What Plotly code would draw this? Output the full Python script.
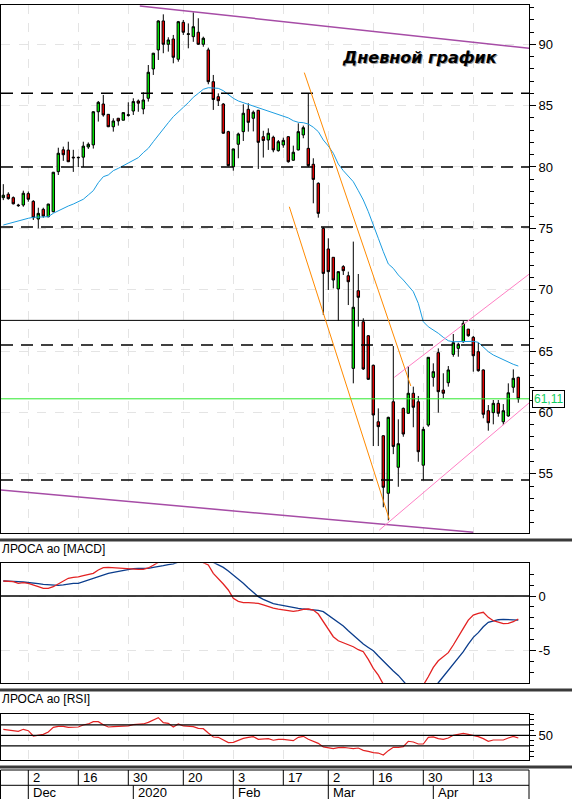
import pandas as pd
import plotly.graph_objects as go

W, H = 572, 799


def py(p):
    # pixel row -> paper y
    return 1 - p / H


def px(p):
    return p / W


# trading days (MOEX), non-trading days removed
holidays = ["2019-12-31", "2020-01-01", "2020-01-02", "2020-01-07",
            "2020-02-24", "2020-03-09"]
dates = [d.strftime("%Y-%m-%d") for d in pd.bdate_range("2019-11-25", "2020-04-24")
         if d.strftime("%Y-%m-%d") not in holidays]

opens = [77.5, 77.78, 77.5, 76.9, 76.9, 77.83, 77.2, 75.76, 76.55, 75.95,
         76.36, 79.62, 81.4, 81.38, 80.8, 80.75, 80.8, 81.63, 81.8, 84.5,
         85.13, 84.29, 83.28, 83.97, 83.81, 84.2, 84.56, 85.38, 84.73, 85.6,
         87.99, 89.54, 91.9, 90.0, 90.43, 88.78, 91.79, 90.8, 90.62, 90.98,
         90.0, 89.54, 86.95, 85.73, 85.13, 82.88, 80.02, 81.85, 82.88, 84.7,
         83.97, 84.62, 82.47, 82.2, 82.42, 81.33, 81.79, 82.47, 80.55, 81.39,
         82.61, 81.52, 80.22, 78.67, 75.0, 73.32, 72.64, 70.06, 71.88, 71.14,
         63.59, 69.92, 67.39, 66.25, 63.84, 59.24, 58.1, 53.41, 60.87, 55.53,
         60.33, 59.93, 61.56, 60.87, 55.7, 58.97, 62.86, 64.87, 61.82, 62.42,
         64.73, 65.22, 65.76, 66.79, 66.12, 64.95, 63.46, 60.14, 59.98, 60.74,
         59.24, 59.71, 62.05, 62.86]
highs = [78.6, 77.94, 77.6, 77.0, 78.07, 78.0, 77.3, 76.68, 76.68, 77.0,
         79.6, 81.57, 81.66, 82.06, 81.4, 80.85, 82.06, 82.0, 84.55, 85.38,
         85.87, 84.3, 83.97, 84.0, 84.45, 85.27, 85.6, 85.5, 86.09, 88.31,
         89.3, 91.95, 92.44, 90.57, 90.76, 91.9, 91.98, 91.7, 92.6, 92.12,
         90.62, 89.72, 87.5, 86.0, 85.2, 82.95, 81.5, 82.8, 85.11, 85.19,
         84.6, 84.65, 82.95, 83.15, 82.55, 82.2, 82.39, 82.5, 81.74, 83.56,
         83.37, 86.0, 80.71, 78.75, 75.1, 74.19, 72.65, 71.5, 72.0, 71.47,
         73.92, 71.28, 67.67, 66.3, 63.9, 60.33, 58.15, 59.65, 65.41, 59.44,
         60.4, 63.78, 62.1, 61.34, 58.83, 64.49, 64.0, 65.22, 63.19, 63.78,
         66.39, 65.68, 67.47, 66.8, 66.23, 65.68, 63.51, 60.6, 61.01, 61.01,
         60.68, 62.37, 63.51, 62.91]
lows = [77.3, 77.34, 76.95, 76.75, 76.76, 77.17, 75.68, 75.0, 75.87, 75.9,
        76.3, 79.35, 80.5, 80.4, 79.6, 80.0, 80.0, 81.47, 81.5, 83.7,
        84.1, 83.25, 82.88, 83.37, 83.8, 84.1, 84.24, 84.5, 84.3, 85.33,
        87.5, 88.72, 89.27, 89.4, 88.45, 88.58, 90.76, 89.67, 90.2, 89.94,
        89.8, 86.74, 84.65, 84.97, 82.7, 80.05, 79.7, 80.71, 82.12, 82.88,
        82.9, 79.84, 80.77, 81.39, 81.2, 81.25, 81.57, 80.35, 80.5, 81.35,
        82.34, 80.0, 77.04, 75.87, 67.94, 69.98, 70.11, 67.47, 71.2, 68.75,
        62.37, 66.99, 63.46, 62.65, 57.26, 57.26, 52.27, 51.2, 56.6, 53.94,
        58.02, 59.9, 58.79, 55.98, 54.49, 58.83, 62.1, 59.98, 61.15, 62.1,
        64.54, 64.54, 65.68, 66.17, 63.32, 63.32, 59.52, 58.51, 59.03, 59.65,
        58.97, 59.65, 61.6, 60.79]
closes = [77.7, 77.42, 77.0, 76.85, 77.86, 77.37, 75.87, 76.22, 76.0, 76.98,
          79.57, 81.12, 81.0, 80.43, 80.75, 80.78, 81.7, 81.85, 84.5, 85.27,
          84.24, 83.28, 83.75, 83.75, 84.43, 84.25, 85.33, 85.2, 85.46, 87.72,
          89.27, 91.9, 90.0, 90.35, 88.94, 91.84, 90.98, 90.85, 91.43, 90.0,
          90.49, 86.95, 85.5, 85.4, 82.75, 80.11, 81.47, 82.69, 84.38, 83.64,
          84.46, 82.01, 82.16, 82.75, 81.39, 82.06, 82.17, 80.43, 81.2, 82.88,
          83.2, 80.11, 78.99, 76.22, 71.33, 71.47, 70.79, 71.47, 71.55, 70.65,
          68.57, 69.38, 63.54, 62.7, 59.79, 58.84, 53.9, 59.6, 57.23, 57.45,
          58.24, 61.56, 60.42, 56.8, 58.62, 64.49, 63.32, 61.69, 61.56, 63.46,
          65.68, 65.55, 67.26, 66.25, 64.62, 63.4, 59.85, 59.16, 60.74, 59.93,
          60.14, 61.6, 62.78, 61.11]
ma20 = [75.27, 75.38, 75.54, 75.62, 75.74, 75.82, 75.9, 75.93, 75.93, 75.95,
        76.23, 76.44, 76.63, 76.82, 76.98, 77.17, 77.37, 77.72, 78.07, 78.72,
        79.21, 79.35, 79.7, 79.89, 80.11, 80.3, 80.51, 80.76, 81.17, 81.52,
        82.06, 82.61, 83.15, 83.61, 84.1, 84.51, 84.86, 85.24, 85.68, 86.0,
        86.33, 86.46, 86.44, 86.41, 86.22, 85.92, 85.6, 85.38, 85.24, 85.13,
        84.97, 84.86, 84.7, 84.56, 84.43, 84.29, 84.13, 84.0, 83.77, 83.64,
        83.61, 83.5, 83.24, 82.88, 82.2, 81.71, 81.12, 80.24, 79.7, 79.21,
        78.8, 78.07, 77.31, 76.36, 75.35, 74.19, 73.1, 72.1, 71.74, 71.2,
        70.79, 70.3, 69.84, 68.89, 67.39, 66.98, 66.72, 66.45, 66.12, 65.84,
        65.76, 65.76, 65.76, 65.82, 65.79, 65.71, 65.31, 64.95, 64.68, 64.49,
        64.27, 64.08, 63.92, 63.78]

macd = [1.37, 1.34, 1.31, 1.16, 1.22, 1.16, 1.04, 0.85, 0.70, 0.70,
        0.85, 1.10, 1.40, 1.62, 1.71, 1.74, 1.86, 1.95, 2.07, 2.38,
        2.59, 2.62, 2.59, 2.56, 2.53, 2.44, 2.44, 2.44, 2.44, 2.56,
        2.81, 3.1, 3.4, 3.6, 3.8, 3.9, 4.0, 3.9, 3.7, 3.4,
        3.05, 2.84, 2.07, 1.62, 1.10, 0.55, -0.21, -0.49, -0.61, -0.61,
        -0.61, -0.67, -0.82, -0.98, -1.10, -1.19, -1.25, -1.37, -1.40, -1.34,
        -1.22, -1.19, -1.28, -1.65, -2.35, -3.11, -3.72, -4.09, -4.27, -4.42,
        -4.64, -4.91, -5.09, -5.79, -6.62, -7.23, -8.1, -8.9, -9.3, -9.5,
        -9.5, -9.3, -9.0, -8.6, -8.15, -7.38, -6.53, -5.92, -5.55, -5.18,
        -4.48, -3.66, -2.96, -2.20, -1.74, -1.59, -1.49, -1.95, -2.26, -2.38,
        -2.53, -2.50, -2.35, -2.10]
macd_signal = [1.37, 1.37, 1.34, 1.31, 1.28, 1.25, 1.19, 1.13, 1.07, 1.04,
               0.98, 0.98, 1.01, 1.10, 1.16, 1.16, 1.31, 1.46, 1.62, 1.83,
               1.95, 2.07, 2.16, 2.26, 2.32, 2.44, 2.50, 2.53, 2.53, 2.53,
               2.62, 2.68, 2.77, 2.87, 2.93, 3.1, 3.25, 3.4, 3.5, 3.5,
               3.45, 3.3, 3.05, 2.84, 2.62, 2.29, 1.92, 1.56, 1.16, 0.73,
               0.30, -0.06, -0.31, -0.52, -0.69, -0.79, -0.88, -0.98, -1.10, -1.13,
               -1.19, -1.22, -1.28, -1.31, -1.43, -1.74, -2.07, -2.38, -2.74, -3.17,
               -3.57, -4.03, -4.39, -4.70, -5.00, -5.49, -5.98, -6.47, -6.86, -7.26,
               -7.84, -8.3, -8.6, -8.8, -8.9, -8.8, -8.6, -7.93, -7.38, -6.83,
               -6.22, -5.64, -5.09, -4.39, -3.78, -3.35, -2.81, -2.41, -2.26, -2.17,
               -2.14, -2.14, -2.14, -2.20]
rsi = [55.7, 55.0, 53.8, 53.8, 55.7, 54.4, 49.3, 50.0, 50.9, 53.1,
       57.6, 58.5, 58.5, 57.6, 57.6, 57.9, 59.8, 60.8, 63.0, 63.0,
       60.1, 57.9, 58.2, 58.2, 58.2, 58.9, 60.1, 60.1, 60.8, 62.3,
       64.6, 66.8, 62.0, 61.4, 57.9, 60.8, 58.9, 58.5, 58.2, 56.6,
       56.3, 52.2, 48.4, 48.1, 45.2, 43.0, 43.3, 45.2, 47.1, 48.1,
       48.7, 46.2, 46.5, 46.8, 45.3, 46.2, 46.2, 45.5, 44.9, 48.1,
       49.0, 46.2, 44.3, 42.3, 38.9, 37.9, 37.3, 38.2, 38.5, 37.9,
       37.3, 37.9, 35.7, 34.7, 33.5, 33.1, 31.2, 35.4, 38.5, 38.5,
       39.2, 44.3, 43.6, 41.7, 41.7, 48.1, 48.4, 46.8, 46.2, 47.4,
       50.0, 50.9, 51.9, 50.9, 50.0, 48.7, 46.8, 44.3, 45.5, 45.2,
       45.5, 47.4, 49.0, 47.4]

# support / resistance levels
levels_dashed = [86.0, 80.0, 75.1, 65.5, 54.5]
level_solid = 67.5
last_price = 61.11
rsi_levels = [40, 50, 60]

# trend lines: (bar index, price) pairs
purple_top = [(27.3, 93.12), (105.2, 89.67)]
purple_bottom = [(-0.5, 53.67), (94.0, 50.23)]
orange_upper = [(60.2, 87.69), (81.5, 62.15)]
orange_lower = [(57.2, 76.76), (77.2, 51.29)]
pink_upper = [(78.2, 62.86), (105.2, 71.28)]
pink_lower = [(75.2, 50.41), (105.2, 60.79)]

day_ticks = ["2019-12-02", "2019-12-16", "2019-12-30", "2020-01-20", "2020-02-03",
             "2020-02-17", "2020-03-02", "2020-03-16", "2020-03-30", "2020-04-13"]
day_labels = ["2", "16", "30", "20", "3", "17", "2", "16", "30", "13"]
month_ticks = ["2019-12-02", "2020-01-03", "2020-02-03", "2020-03-02", "2020-04-01"]
month_labels = ["Dec", "2020", "Feb", "Mar", "Apr"]

FONT = "Liberation Sans, Arial, sans-serif"
GRID = "#e4e4e4"
XRANGE = [-0.46, 105.14]

fig = go.Figure()
fig.add_trace(go.Candlestick(
    x=dates, open=opens, high=highs, low=lows, close=closes,
    xaxis="x", yaxis="y", whiskerwidth=0,
    increasing=dict(fillcolor="#00e000", line=dict(color="black", width=1)),
    decreasing=dict(fillcolor="#e00000", line=dict(color="black", width=1)),
))
fig.add_trace(go.Scatter(x=dates, y=ma20, mode="lines", xaxis="x", yaxis="y",
                         line=dict(color="#1c9de0", width=1)))
fig.add_trace(go.Scatter(x=dates, y=macd_signal, mode="lines", xaxis="x2", yaxis="y2",
                         line=dict(color="#0b3d8c", width=1.3)))
fig.add_trace(go.Scatter(x=dates, y=macd, mode="lines", xaxis="x2", yaxis="y2",
                         line=dict(color="#e32222", width=1.3)))
fig.add_trace(go.Scatter(x=dates, y=rsi, mode="lines", xaxis="x3", yaxis="y3",
                         line=dict(color="#e32222", width=1.2)))

xcommon = dict(domain=[px(1), px(529)], type="category", range=XRANGE,
               showticklabels=False, ticks="", tickmode="array", tickvals=day_ticks,
               showgrid=True, gridcolor=GRID, griddash="dash", gridwidth=1,
               showline=True, linecolor="black", linewidth=1, mirror=True,
               zeroline=False, fixedrange=True)
ycommon = dict(side="right", ticks="outside", ticklen=6, tickcolor="black",
               showline=True, linecolor="black", linewidth=1, mirror=True,
               zeroline=False, tickfont=dict(family=FONT, size=13, color="black"))

fig.update_layout(
    width=W, height=H, margin=dict(l=0, r=0, t=0, b=0),
    paper_bgcolor="white", plot_bgcolor="white", showlegend=False,
    font=dict(family=FONT, size=13, color="black"),
    xaxis=dict(xcommon, anchor="y", rangeslider=dict(visible=False)),
    xaxis2=dict(xcommon, anchor="y2", matches="x"),
    xaxis3=dict(xcommon, anchor="y3", matches="x"),
    yaxis=dict(ycommon, anchor="x", domain=[py(533.3), py(5)], range=[50.15, 93.2],
               tick0=0, dtick=5, showgrid=True, gridcolor=GRID, griddash="dash",
               minor=dict(dtick=1, ticks="outside", ticklen=4, tickcolor="black",
                          showgrid=False)),
    yaxis2=dict(ycommon, anchor="x2", domain=[py(683.3), py(563.3)], range=[-7.98, 2.99],
                tickmode="array", tickvals=[-5, 0], ticktext=["-5", "0"],
                showgrid=True, gridcolor=GRID, griddash="dash",
                minor=dict(tickmode="linear", tick0=0, dtick=1, ticks="outside",
                           ticklen=4, tickcolor="black", showgrid=False)),
    yaxis3=dict(ycommon, anchor="x3", domain=[py(759.7), py(713.7)], range=[26.76, 70.57],
                tickmode="array", tickvals=[50], ticktext=["50"], showgrid=False,
                minor=dict(tickmode="linear", tick0=0, dtick=5, ticks="outside",
                           ticklen=4, tickcolor="black", showgrid=False)),
)

shapes = []
for lv in levels_dashed:
    shapes.append(dict(type="line", xref="x domain", yref="y", x0=0, x1=1, y0=lv, y1=lv,
                       line=dict(color="black", width=1.5, dash="12px,8px")))
shapes.append(dict(type="line", xref="x domain", yref="y", x0=0, x1=1,
                   y0=level_solid, y1=level_solid, line=dict(color="black", width=1)))
shapes.append(dict(type="line", xref="x domain", yref="y", x0=0, x1=1,
                   y0=last_price, y1=last_price, line=dict(color="#2ee82e", width=1)))

for pts, col, wd in [(purple_top, "#a64ca6", 1.5), (purple_bottom, "#a64ca6", 1.5),
                     (orange_upper, "#ff8a00", 1), (orange_lower, "#ff8a00", 1),
                     (pink_upper, "#ff7fc4", 1), (pink_lower, "#ff7fc4", 1)]:
    (x0, y0), (x1, y1) = pts
    shapes.append(dict(type="line", xref="x", yref="y", x0=x0, y0=y0, x1=x1, y1=y1,
                       line=dict(color=col, width=wd)))

shapes.append(dict(type="line", xref="x2 domain", yref="y2", x0=0, x1=1, y0=0, y1=0,
                   line=dict(color="black", width=1.5)))
for lv in rsi_levels:
    shapes.append(dict(type="line", xref="x3 domain", yref="y3", x0=0, x1=1, y0=lv, y1=lv,
                       line=dict(color="black", width=1.3)))

# thick panel separators
for yy in [540, 690, 767]:
    shapes.append(dict(type="line", xref="paper", yref="paper", x0=0, x1=1,
                       y0=py(yy), y1=py(yy), line=dict(color="#3a3a3a", width=3)))

# date strip
shapes.append(dict(type="rect", xref="paper", yref="paper", x0=px(0.5), x1=px(529),
                   y0=py(799.5), y1=py(770), line=dict(color="black", width=1)))
shapes.append(dict(type="line", xref="paper", yref="paper", x0=px(0.5), x1=px(529),
                   y0=py(785.3), y1=py(785.3), line=dict(color="black", width=1)))
for d in day_ticks:
    shapes.append(dict(type="line", xref="x3", yref="paper", x0=dates.index(d), x1=dates.index(d),
                       y0=py(785.3), y1=py(770), line=dict(color="black", width=1)))
for d in month_ticks:
    shapes.append(dict(type="line", xref="x3", yref="paper", x0=dates.index(d), x1=dates.index(d),
                       y0=py(799.5), y1=py(785.3), line=dict(color="black", width=1)))
fig.update_layout(shapes=shapes)

ann = []
for d, t in zip(day_ticks, day_labels):
    ann.append(dict(xref="x3", yref="paper", x=dates.index(d), y=py(777.8), text=t,
                    xanchor="left", yanchor="middle", xshift=3, showarrow=False,
                    font=dict(family=FONT, size=13, color="black")))
for d, t in zip(month_ticks, month_labels):
    ann.append(dict(xref="x3", yref="paper", x=dates.index(d), y=py(792.6), text=t,
                    xanchor="left", yanchor="middle", xshift=3, showarrow=False,
                    font=dict(family=FONT, size=13, color="black")))

ann.append(dict(xref="paper", yref="paper", x=0, y=py(549), text="ЛРОСА ао [MACD]",
                xanchor="left", yanchor="middle", showarrow=False,
                font=dict(family=FONT, size=12, color="black")))
ann.append(dict(xref="paper", yref="paper", x=0, y=py(699), text="ЛРОСА ао [RSI]",
                xanchor="left", yanchor="middle", showarrow=False,
                font=dict(family=FONT, size=12, color="black")))

# chart title with a light shadow
for dx, col in [(1.2, "#9a9a9a"), (0, "black")]:
    ann.append(dict(xref="paper", yref="paper", x=px(420), y=py(57), text="<b><i>Дневной график</i></b>",
                    xanchor="center", yanchor="middle", showarrow=False, xshift=dx, yshift=-dx,
                    font=dict(family="DejaVu Sans, Verdana, sans-serif", size=16, color=col)))

ann.append(dict(xref="paper", yref="y", x=px(532), y=last_price, text="61,11",
                xanchor="left", yanchor="middle", showarrow=False,
                bordercolor="black", borderwidth=1, borderpad=1, bgcolor="white",
                font=dict(family=FONT, size=12, color="#10cc60")))
fig.update_layout(annotations=ann)

# the page's default body margin would shift the whole figure by 8px
fig.write_html("out.html", config={"displayModeBar": False},
               post_script="document.body.style.margin='0px';document.body.style.overflow='hidden';")
